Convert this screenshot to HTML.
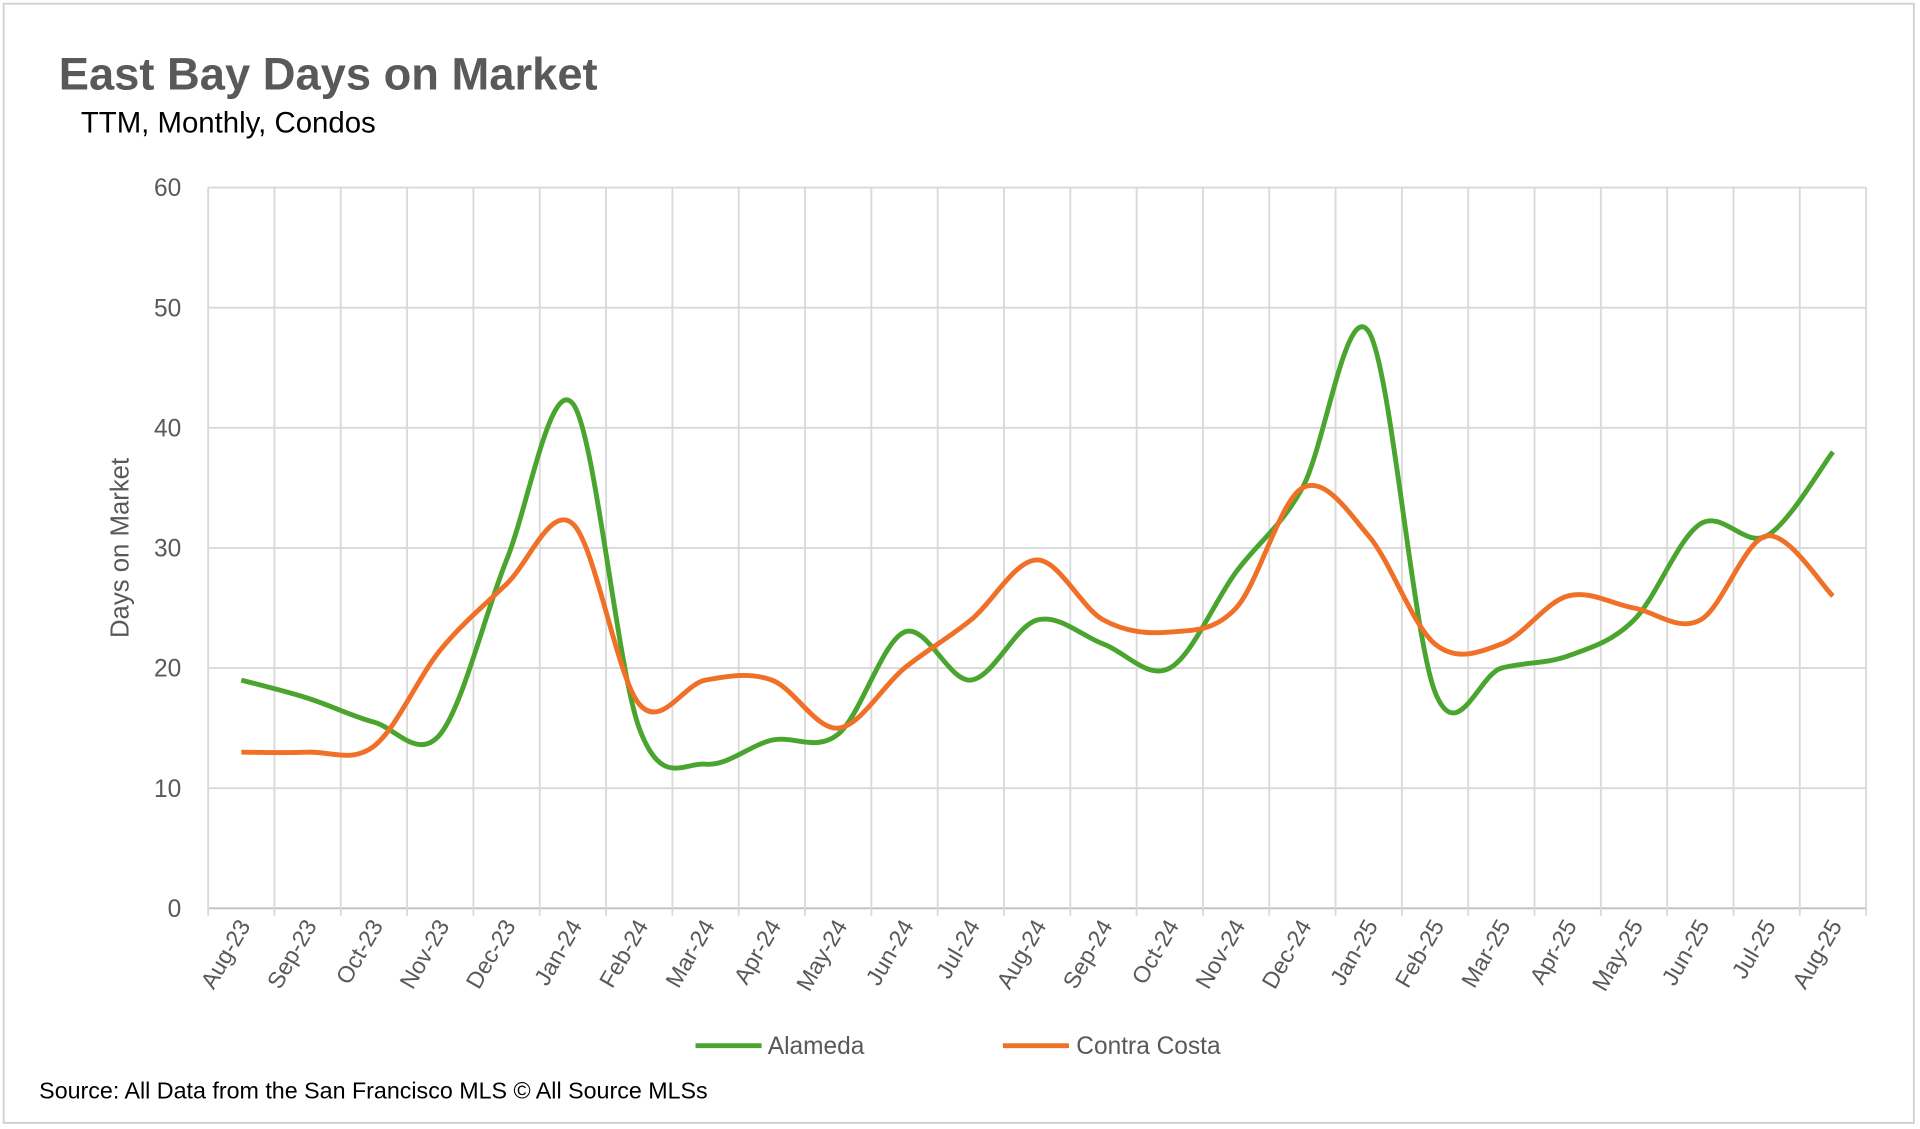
<!DOCTYPE html>
<html><head><meta charset="utf-8">
<style>
html,body{margin:0;padding:0;background:#fff;}
svg{display:block;font-family:"Liberation Sans",sans-serif;}
</style></head>
<body>
<svg id="chart" width="1920" height="1129" viewBox="0 0 1568 921" preserveAspectRatio="none">
<rect x="3" y="3" width="1560" height="913" fill="#fff" stroke="#d0d0d0" stroke-width="1.5"/>
<text x="48" y="73" font-size="37" font-weight="bold" fill="#595959">East Bay Days on Market</text>
<text x="66" y="108" font-size="24" fill="#000">TTM, Monthly, Condos</text>
<g id="grid"></g>
<g id="axes"></g>
<g id="series"></g>
<text transform="translate(105,447) rotate(-90)" text-anchor="middle" font-size="21" fill="#595959">Days on Market</text>
<g>
<line x1="568" y1="853" x2="622" y2="853" stroke="#4aa52e" stroke-width="4"/>
<text x="627" y="860" font-size="20" fill="#595959">Alameda</text></g>
<g>
<line x1="819" y1="853" x2="873" y2="853" stroke="#f07028" stroke-width="4"/>
<text x="879" y="860" font-size="20" fill="#595959">Contra Costa</text></g>
<text x="32" y="896" font-size="19" fill="#000">Source: All Data from the San Francisco MLS © All Source MLSs</text>
</svg>
<script>
const categories=["Aug-23","Sep-23","Oct-23","Nov-23","Dec-23","Jan-24","Feb-24","Mar-24","Apr-24","May-24","Jun-24","Jul-24","Aug-24","Sep-24","Oct-24","Nov-24","Dec-24","Jan-25","Feb-25","Mar-25","Apr-25","May-25","Jun-25","Jul-25","Aug-25"];
const alameda=[19,17.5,15.5,14.5,29,42,15,12,14,14.5,23,19,24,22,20,28,35,48,18,20,21,24,32,31,38];
const contraCosta=[13,13,13.5,21.5,27,32,17,19,19,15,20,24,29,24,23,25,35,31,22,22,26,25,24,31,26];
const yTicks=[0,10,20,30,40,50,60];
const NS="http://www.w3.org/2000/svg";
const L=170,R=1524,T=153,B=741,yMax=60;
const bw=(R-L)/categories.length;
const x=i=>L+bw*(i+0.5);
const y=v=>B-(v/yMax)*(B-T);
function mk(t,a,p){const e=document.createElementNS(NS,t);for(const k in a)e.setAttribute(k,a[k]);p.appendChild(e);return e;}
const grid=document.getElementById('grid'),axes=document.getElementById('axes'),series=document.getElementById('series');
yTicks.forEach(v=>{
 const l=mk('line',{x1:L,x2:R,y1:y(v),y2:y(v),stroke:v===0?'#bfbfbf':'#d9d9d9','stroke-width':1.5},grid);
 
 
 const t=mk('text',{x:148,y:y(v)+7,'text-anchor':'end','font-size':20,fill:'#595959'},axes);
 t.textContent=v;
 
 
});
for(let i=0;i<=categories.length;i++){
 const gx=L+bw*i;
 const l=mk('line',{x1:gx,x2:gx,y1:T,y2:B+6,stroke:'#d9d9d9','stroke-width':1.5},grid);
 
 
}
categories.forEach((c,i)=>{
 const t=mk('text',{x:0,y:0,'text-anchor':'end','font-size':19,fill:'#595959',transform:`translate(${x(i)+8},${B+14}) rotate(-60)`},axes);
 t.textContent=c;
 
 
});
function smooth(vals){
 const p=vals.map((v,i)=>[x(i),y(v)]);
 let d=`M${p[0][0]},${p[0][1]}`;
 for(let i=0;i<p.length-1;i++){
  const p0=p[i-1]||p[i],p1=p[i],p2=p[i+1],p3=p[i+2]||p2,k=6;
  d+=` C${p1[0]+(p2[0]-p0[0])/k},${p1[1]+(p2[1]-p0[1])/k} ${p2[0]-(p3[0]-p1[0])/k},${p2[1]-(p3[1]-p1[1])/k} ${p2[0]},${p2[1]}`;
 }
 return d;
}
const a=mk('path',{d:smooth(alameda),fill:'none',stroke:'#4aa52e','stroke-width':4,'stroke-linejoin':'round'},series);


const c=mk('path',{d:smooth(contraCosta),fill:'none',stroke:'#f07028','stroke-width':4,'stroke-linejoin':'round'},series);


</script>
</body></html>
